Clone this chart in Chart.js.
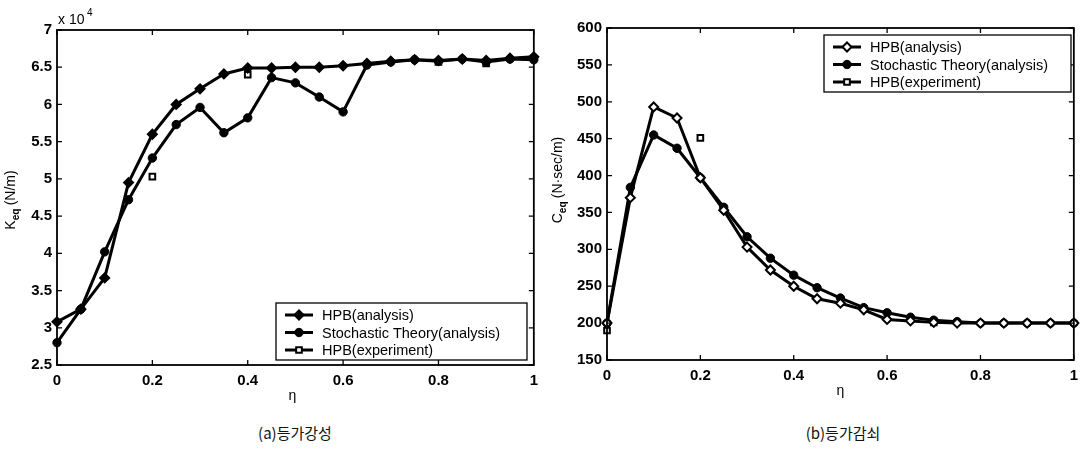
<!DOCTYPE html>
<html>
<head>
<meta charset="utf-8">
<script src="https://cdn.jsdelivr.net/npm/chart.js@4"></script>
<style>
  body { margin: 0; background: #fff; width: 1085px; height: 451px; position: relative; overflow: hidden; }
  .box { position: absolute; top: 0; }
  .cap { position: absolute; top: 422px; font: 15px "Noto Sans CJK KR", sans-serif; color: #111; transform: translateX(-50%); }
</style>
</head>
<body>
<div class="box" style="left:0"><canvas id="kChart" width="545" height="410"></canvas></div>
<div class="box" style="left:545px"><canvas id="cChart" width="540" height="410"></canvas></div>
<div class="cap" style="left:295px">(a)등가강성</div>
<div class="cap" style="left:843px">(b)등가감쇠</div>
<script>
// eta values shared by both analysis curves
const etas = [0, 0.05, 0.1, 0.15, 0.2, 0.25, 0.3, 0.35, 0.4, 0.45, 0.5,
  0.55, 0.6, 0.65, 0.7, 0.75, 0.8, 0.85, 0.9, 0.95, 1];

// (a) equivalent stiffness, in units of 10^4 N/m
const kHpb   = [3.08, 3.25, 3.67, 4.95, 5.60, 6.00, 6.21, 6.41, 6.49, 6.49, 6.50,
  6.50, 6.52, 6.55, 6.58, 6.60, 6.59, 6.61, 6.59, 6.62, 6.64];
const kStoch = [2.80, 3.25, 4.02, 4.72, 5.28, 5.73, 5.96, 5.62, 5.82, 6.36, 6.29,
  6.10, 5.90, 6.53, 6.57, 6.60, 6.58, 6.61, 6.57, 6.61, 6.60];
const kExpEta = [0.2, 0.4, 0.8, 0.9];
const kExp    = [5.03, 6.40, 6.57, 6.55];
const kTicks = [2.5, 3, 3.5, 4, 4.5, 5, 5.5, 6, 6.5, 7];

// (b) equivalent damping, N.sec/m
const cHpb   = [200, 370, 493, 478, 397, 353, 303, 272, 250, 233, 227,
  218, 205, 203, 201, 200, 200, 200, 200, 200, 200];
const cStoch = [200, 384, 455, 437, 397, 357, 317, 288, 265, 248, 234,
  221, 214, 208, 204, 202, 200, 200, 200, 200, 200];
const cExpEta = [0, 0.2, 0.7];
const cExp    = [190, 451, 201];
const cTicks = [150, 200, 250, 300, 350, 400, 450, 500, 550, 600];

const etaTicks = [0, 0.2, 0.4, 0.6, 0.8, 1];
const seriesNames = ['HPB(analysis)', 'Stochastic Theory(analysis)', 'HPB(experiment)'];

const toXY = (xs, ys) => xs.map((x, i) => ({ x: x, y: ys[i] }));
const FONT = '"Liberation Sans", Arial, sans-serif';

function makeDatasets(hpb, stoch, expEta, exp, hpbFill) {
  const common = { borderColor: '#000', borderWidth: 3, tension: 0, clip: false, pointBorderColor: '#000' };
  return [
    Object.assign({}, common, {
      label: seriesNames[0], data: toXY(etas, hpb),
      pointStyle: 'rectRot', pointRadius: 4.5, pointBackgroundColor: hpbFill, pointBorderWidth: 2
    }),
    Object.assign({}, common, {
      label: seriesNames[1], data: toXY(etas, stoch),
      pointStyle: 'circle', pointRadius: 4.2, pointBackgroundColor: '#000', pointBorderWidth: 1
    }),
    Object.assign({}, common, {
      label: seriesNames[2], data: toXY(expEta, exp), showLine: false,
      pointStyle: 'rect', pointRadius: 4, pointBackgroundColor: '#fff', pointBorderWidth: 2
    })
  ];
}

// frame, inward ticks, axis titles and the inset legend (MATLAB look)
function decorPlugin(cfg) {
  return {
    id: 'decor',
    afterDraw(chart) {
      const ctx = chart.ctx, a = chart.chartArea;
      const xs = chart.scales.x, ys = chart.scales.y;
      ctx.save();
      ctx.strokeStyle = '#000';
      ctx.lineWidth = 1.8;
      ctx.strokeRect(a.left, a.top, a.right - a.left, a.bottom - a.top);
      ctx.lineWidth = 1.3;
      ctx.beginPath();
      xs.ticks.forEach(t => {
        const p = xs.getPixelForValue(t.value);
        ctx.moveTo(p, a.bottom); ctx.lineTo(p, a.bottom - 5);
        ctx.moveTo(p, a.top); ctx.lineTo(p, a.top + 5);
      });
      ys.ticks.forEach(t => {
        const p = ys.getPixelForValue(t.value);
        ctx.moveTo(a.left, p); ctx.lineTo(a.left + 5, p);
        ctx.moveTo(a.right, p); ctx.lineTo(a.right - 5, p);
      });
      ctx.stroke();

      // eta label
      ctx.fillStyle = '#000';
      ctx.font = '14px ' + FONT;
      ctx.textAlign = 'center';
      ctx.textBaseline = 'middle';
      ctx.fillText('η', (a.left + a.right) / 2 + cfg.etaShift, a.bottom + 31);

      // y title with subscript
      ctx.save();
      ctx.translate(cfg.yTitleX, cfg.yTitleY);
      ctx.rotate(-Math.PI / 2);
      ctx.textAlign = 'left';
      ctx.textBaseline = 'alphabetic';
      ctx.font = '14px ' + FONT;
      const w0 = ctx.measureText(cfg.yMain).width;
      ctx.font = '10px ' + FONT;
      const w1 = ctx.measureText('eq').width;
      ctx.font = '14px ' + FONT;
      const w2 = ctx.measureText(cfg.yUnit).width;
      let sx = -(w0 + w1 + w2) / 2;
      ctx.fillText(cfg.yMain, sx, 5);
      ctx.font = 'bold 10px ' + FONT;
      ctx.fillText('eq', sx + w0, 9);
      ctx.font = '14px ' + FONT;
      ctx.fillText(cfg.yUnit, sx + w0 + w1, 5);
      ctx.restore();

      if (cfg.exponent) {
        ctx.font = '14px ' + FONT;
        ctx.textAlign = 'left';
        ctx.textBaseline = 'alphabetic';
        ctx.fillText('x 10', a.left + 1, a.top - 6);
        ctx.font = '10px ' + FONT;
        ctx.fillText('4', a.left + 30, a.top - 14);
      }

      // legend
      const L = cfg.legend;
      ctx.fillStyle = '#fff';
      ctx.fillRect(L.x, L.y, L.w, L.h);
      ctx.lineWidth = 1.3;
      ctx.strokeRect(L.x, L.y, L.w, L.h);
      chart.data.datasets.forEach((ds, i) => {
        const ry = L.y + 12 + i * 17.5;
        ctx.strokeStyle = '#000';
        ctx.lineWidth = 3;
        ctx.beginPath();
        ctx.moveTo(L.x + 9, ry); ctx.lineTo(L.x + 37, ry);
        ctx.stroke();
        ctx.fillStyle = ds.pointBackgroundColor;
        ctx.lineWidth = ds.pointBorderWidth;
        Chart.helpers.drawPoint(ctx, { pointStyle: ds.pointStyle, radius: ds.pointRadius, borderWidth: ds.pointBorderWidth, rotation: 0 }, L.x + 23, ry);
        ctx.fillStyle = '#000';
        ctx.font = '14.5px ' + FONT;
        ctx.textAlign = 'left';
        ctx.textBaseline = 'middle';
        ctx.fillText(ds.label, L.x + 46, ry + 1);
      });
      ctx.restore();
    }
  };
}

function makeOptions(pad, yWidth, xHeight, yMin, yMax, yTicks, tickFmt) {
  const tickFont = { family: FONT, size: 15, weight: 'bold' };
  return {
    responsive: false,
    animation: false,
    layout: { padding: pad },
    plugins: { legend: { display: false }, tooltip: { enabled: false } },
    scales: {
      x: {
        type: 'linear', min: 0, max: 1,
        afterBuildTicks: s => { s.ticks = etaTicks.map(v => ({ value: v })); },
        afterFit: s => { s.height = xHeight; },
        grid: { display: false, drawTicks: false },
        border: { display: false },
        ticks: { color: '#000', padding: 7, font: tickFont, callback: v => String(v) }
      },
      y: {
        type: 'linear', min: yMin, max: yMax,
        afterBuildTicks: s => { s.ticks = yTicks.map(v => ({ value: v })); },
        afterFit: s => { s.width = yWidth; },
        grid: { display: false, drawTicks: false },
        border: { display: false },
        ticks: { color: '#000', padding: 5, font: tickFont, callback: tickFmt }
      }
    }
  };
}

new Chart(document.getElementById('kChart'), {
  type: 'line',
  data: { datasets: makeDatasets(kHpb, kStoch, kExpEta, kExp, '#000') },
  options: makeOptions({ top: 30, right: 11, left: 0, bottom: 0 }, 57, 45, 2.5, 7, kTicks, v => String(v)),
  plugins: [decorPlugin({
    yMain: 'K', yUnit: ' (N/m)', yTitleX: 10, yTitleY: 200, etaShift: -3, exponent: true,
    legend: { x: 276, y: 303, w: 251, h: 57 }
  })]
});

new Chart(document.getElementById('cChart'), {
  type: 'line',
  data: { datasets: makeDatasets(cHpb, cStoch, cExpEta, cExp, '#fff') },
  options: makeOptions({ top: 28, right: 8, left: 0, bottom: 0 }, 62, 50, 150, 600, cTicks, v => String(v)),
  plugins: [decorPlugin({
    yMain: 'C', yUnit: ' (N·sec/m)', yTitleX: 12, yTitleY: 180, etaShift: 0, exponent: false,
    legend: { x: 279, y: 35, w: 247, h: 57 }
  })]
});
</script>
</body>
</html>
